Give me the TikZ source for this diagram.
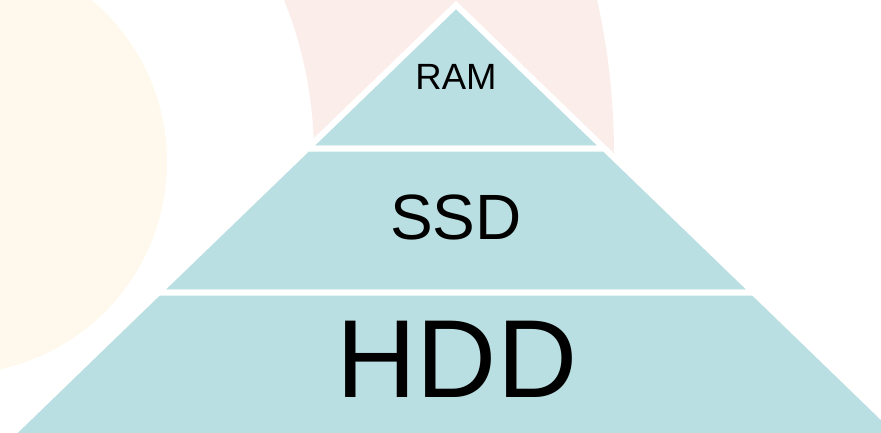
\documentclass[tikz,border=0pt]{standalone}
\usepackage{fontspec}
\setmainfont{Liberation Sans}
\usepackage{tikz}
\usetikzlibrary{calc}

\definecolor{layerfill}{RGB}{186,223,226}
\definecolor{discyellow}{RGB}{254,249,236}
\definecolor{ringpink}{RGB}{250,237,234}

\begin{document}
\begin{tikzpicture}[
    x=1pt, y=-1pt,
    layer/.style={fill=layerfill, draw=white, line width=6pt, line join=miter},
    layer label/.style={inner sep=0pt, text=black, anchor=center}
]
\useasboundingbox (0,0) rectangle (881,433);
\clip (0,0) rectangle (881,433);
% Pale backdrop shapes
\fill[discyellow] (-45,162) circle (212pt);
\fill[ringpink, even odd rule] (-100,155) circle (714pt) (-100,155) circle (414pt);
% Pyramid corners
\coordinate (apex) at (456,5);
\coordinate (ramL) at (307.3,148.7);
\coordinate (ramR) at (604.7,148.7);
\coordinate (ssdL) at (158.4,292.5);
\coordinate (ssdR) at (753.6,292.5);
\coordinate (hddL) at (6,440);
\coordinate (hddR) at (906,440);
% Layers
\draw[layer] (apex) -- (ramR) -- (ramL) -- cycle;
\draw[layer] (ramL) -- (ramR) -- (ssdR) -- (ssdL) -- cycle;
\draw[layer] (ssdL) -- (ssdR) -- (hddR) -- (hddL) -- cycle;
% Labels
\node[layer label, font=\fontsize{36.5}{40}\selectfont] (ram) at (456,77) {RAM};
\node[layer label, font=\fontsize{64}{70}\selectfont] (ssd) at (456,217.5) {SSD};
\node[layer label, font=\fontsize{111}{120}\selectfont] (hdd) at (457,359) {HDD};
\end{tikzpicture}
\end{document}
